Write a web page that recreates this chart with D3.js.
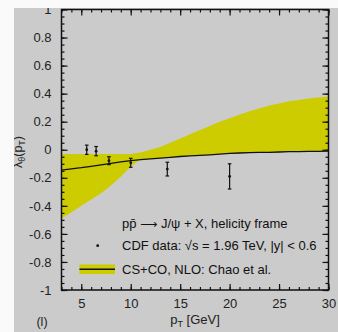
<!DOCTYPE html>
<html><head><meta charset="utf-8">
<script src="https://cdn.jsdelivr.net/npm/d3@7"></script>
<style>
html,body{margin:0;padding:0;background:#fafafa;}
svg{display:block;font-family:"Liberation Sans",Arial,sans-serif;}
</style></head><body>
<svg id="c" width="338" height="332"></svg>
<script>
// ---- data ----
const bandX = [3,4,5,6,7,8,9,10,11,12,13,14,15,16,17,18,19,20,21,22,23,24,25,26,27,28,29,30];
const bandUpper = [-0.03,-0.03,-0.03,-0.03,-0.03,-0.03,-0.03,-0.03,-0.02,0.0,0.02,0.05,0.08,0.11,0.14,0.17,0.2,0.225,0.25,0.275,0.295,0.315,0.33,0.345,0.355,0.365,0.372,0.38];
const bandLower = [-0.49,-0.445,-0.40,-0.355,-0.31,-0.255,-0.19,-0.12,-0.068,-0.065,-0.06,-0.054,-0.048,-0.044,-0.04,-0.036,-0.031,-0.026,-0.023,-0.021,-0.019,-0.018,-0.016,-0.014,-0.013,-0.012,-0.011,-0.01];
const lineY = [-0.145,-0.136,-0.128,-0.118,-0.108,-0.097,-0.087,-0.078,-0.071,-0.065,-0.06,-0.054,-0.048,-0.044,-0.04,-0.036,-0.031,-0.026,-0.023,-0.021,-0.019,-0.018,-0.016,-0.014,-0.013,-0.012,-0.011,-0.01];
const cdfPt = [5.55,6.5,7.8,10.0,13.7,20.0];
const cdfVal = [0.0,-0.01,-0.078,-0.093,-0.138,-0.19];
const cdfErr = [0.033,0.033,0.028,0.032,0.049,0.09];
const xTicks = [5,10,15,20,25,30];
const yTicks = [-1,-0.8,-0.6,-0.4,-0.2,0,0.2,0.4,0.6,0.8,1];
const legendTexts = ["CDF data: \u221As = 1.96 TeV, |y| < 0.6","CS+CO, NLO: Chao et al."];

// ---- drawing ----
const svg = d3.select("#c");
svg.append("rect").attr("x",14).attr("y",8).attr("width",324).attr("height",324).attr("fill","#cbcbcb");

const x = d3.scaleLinear().domain([3,30]).range([61.5,328.5]);
const y = d3.scaleLinear().domain([-1,1]).range([290,9.5]);

const band = bandX.map((v,i)=>({x:v,u:bandUpper[i],l:bandLower[i]}));
svg.append("path").datum(band)
  .attr("d", d3.area().x(d=>x(d.x)).y0(d=>y(d.l)).y1(d=>y(d.u)))
  .attr("fill","#cccc00");

svg.append("path").datum(bandX.map((v,i)=>[v,lineY[i]]))
  .attr("d", d3.line().x(d=>x(d[0])).y(d=>y(d[1])))
  .attr("fill","none").attr("stroke","#111").attr("stroke-width",1.3);

// data points
const pts = svg.append("g").attr("stroke","#111").attr("stroke-width",1.2);
cdfPt.forEach((v,i)=>{
  const cx = x(v), t = y(cdfVal[i]+cdfErr[i]), b = y(cdfVal[i]-cdfErr[i]);
  pts.append("line").attr("x1",cx).attr("x2",cx).attr("y1",t).attr("y2",b);
  pts.append("line").attr("x1",cx-1.8).attr("x2",cx+1.8).attr("y1",t).attr("y2",t);
  pts.append("line").attr("x1",cx-1.8).attr("x2",cx+1.8).attr("y1",b).attr("y2",b);
  svg.append("circle").attr("cx",cx).attr("cy",y(cdfVal[i])).attr("r",1.4).attr("fill","#111");
});

// axes (ticks inward)
const fmt = v => String(v).replace("\u2212","-");
function axis(gen, tr){ return svg.append("g").attr("transform",tr).call(gen); }
const xMinor = d3.range(3,31,1), yMinor = d3.range(-1,1.0001,0.05).map(v=>+v.toFixed(2));
const sty = g=>{ g.select(".domain").remove(); g.selectAll("line").attr("stroke","#111").attr("stroke-width",1.2); };

axis(d3.axisBottom(x).tickValues(xMinor).tickSize(-3).tickFormat(""), "translate(0,290)").call(sty);
axis(d3.axisBottom(x).tickValues(xTicks).tickSize(-6).tickPadding(9).tickFormat(fmt), "translate(0,290)").call(sty)
  .selectAll("text").attr("font-size",13).attr("fill","#222").attr("font-family","Liberation Sans, Arial, sans-serif");
axis(d3.axisTop(x).tickValues(xMinor).tickSize(-3).tickFormat(""), "translate(0,9.5)").call(sty);
axis(d3.axisTop(x).tickValues(xTicks).tickSize(-6).tickFormat(""), "translate(0,9.5)").call(sty);

axis(d3.axisLeft(y).tickValues(yMinor).tickSize(-3).tickFormat(""), "translate(61.5,0)").call(sty);
axis(d3.axisLeft(y).tickValues(yTicks).tickSize(-6).tickPadding(10).tickFormat(fmt), "translate(61.5,0)").call(sty)
  .selectAll("text").attr("font-size",13).attr("fill","#222").attr("font-family","Liberation Sans, Arial, sans-serif");
axis(d3.axisRight(y).tickValues(yMinor).tickSize(-3).tickFormat(""), "translate(328.5,0)").call(sty);
axis(d3.axisRight(y).tickValues(yTicks).tickSize(-6).tickFormat(""), "translate(328.5,0)").call(sty);

// frame
svg.append("rect").attr("x",61.5).attr("y",9.5).attr("width",267).attr("height",280.5)
  .attr("fill","none").attr("stroke","#111").attr("stroke-width",1.5);

// axis titles
const xt = svg.append("text").attr("x",195).attr("y",324).attr("text-anchor","middle").attr("font-size",13).attr("fill","#222");
xt.append("tspan").text("p");
xt.append("tspan").attr("dy",3).attr("font-size",9).text("T");
xt.append("tspan").attr("dy",-3).text(" [GeV]");

const yt = svg.append("text").attr("transform","translate(22,152) rotate(-90)").attr("text-anchor","middle").attr("font-size",12.5).attr("fill","#222");
yt.append("tspan").text("\u03BB");
yt.append("tspan").attr("dy",3).attr("font-size",9).text("\u03B8");
yt.append("tspan").attr("dy",-3).text("(p");
yt.append("tspan").attr("dy",3).attr("font-size",9).text("T");
yt.append("tspan").attr("dy",-3).text(")");

svg.append("text").attr("x",42).attr("y",326).attr("text-anchor","middle").attr("font-size",12.5).attr("fill","#222").text("(l)");

// legend
const l1 = svg.append("text").attr("x",122).attr("y",227.5).attr("font-size",13).attr("fill","#111");
l1.append("tspan").text("pp\u0304 ");
l1.append("tspan").attr("font-family","DejaVu Sans").attr("font-size",12).text("\u27F6");
l1.append("tspan").text(" J/\u03C8 + X, helicity frame");
svg.append("circle").attr("cx",97.7).attr("cy",245.7).attr("r",1.4).attr("fill","#111");
svg.append("text").attr("x",122).attr("y",250).attr("font-size",13).attr("fill","#111").text(legendTexts[0]);
svg.append("rect").attr("x",79.5).attr("y",264.5).attr("width",35.5).attr("height",9.5).attr("fill","#cccc00");
svg.append("line").attr("x1",79.5).attr("x2",115).attr("y1",269.3).attr("y2",269.3).attr("stroke","#111").attr("stroke-width",1.4);
svg.append("text").attr("x",122).attr("y",273.5).attr("font-size",13).attr("fill","#111").text(legendTexts[1]);

// white strip at top (clips the top tick label as in the original)
svg.append("rect").attr("x",0).attr("y",0).attr("width",338).attr("height",8).attr("fill","#fafafa");
svg.append("rect").attr("x",0).attr("y",0).attr("width",14).attr("height",332).attr("fill","#fafafa");
</script></body></html>
